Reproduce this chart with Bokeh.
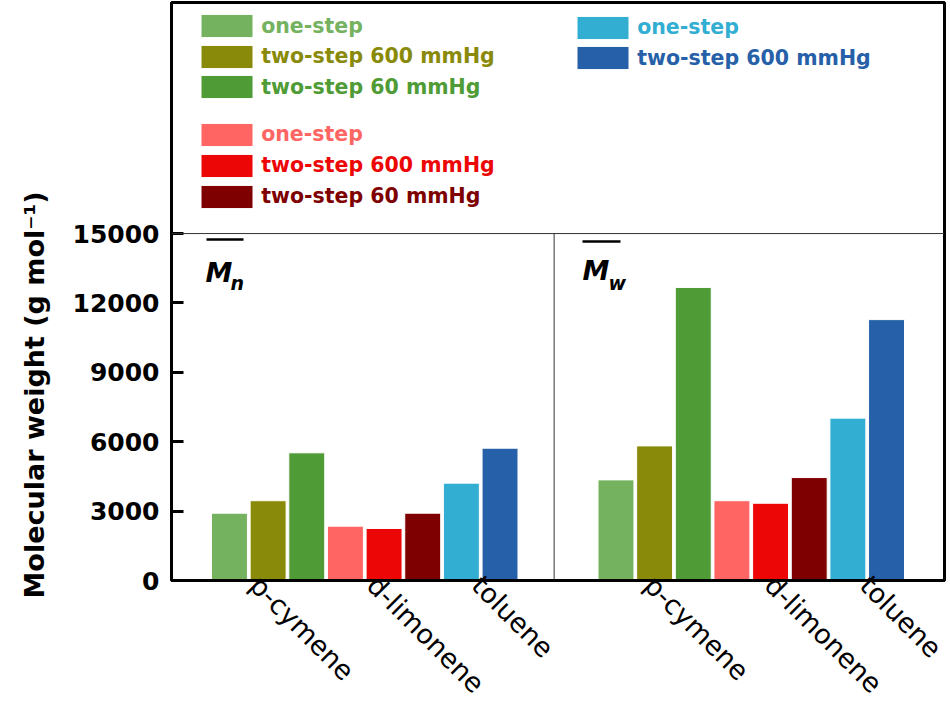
import math
from bokeh.plotting import figure
from bokeh.models import Legend, LegendItem, Label, Span, FixedTicker, ColumnDataSource, Title
from bokeh.embed import file_html
from bokeh.resources import INLINE
from bokeh.core.properties import value

# ---- data ----
series_labels = ["one-step", "two-step 600 mmHg", "two-step 60 mmHg",
                 "one-step", "two-step 600 mmHg", "two-step 60 mmHg",
                 "one-step", "two-step 600 mmHg"]
series_colors = ["#74B25F", "#8A8A0A", "#4F9B35",
                 "#FF6663", "#EC0606", "#7E0000",
                 "#33AED3", "#2660A8"]
mn_values = [2910, 3450, 5520, 2350, 2250, 2910, 4210, 5720]
mw_values = [4350, 5820, 12670, 3450, 3340, 4450, 7020, 11280]
solvents = ["p-cymene", "d-limonene", "toluene"]
label_x = [0.65, 3.69, 6.40, 10.86, 13.98, 16.44]
panel_offsets = [0, 10]
y_ticks = [0, 3000, 6000, 9000, 12000, 15000]
y_title = "Molecular weight (g mol⁻¹)"

FONT = "DejaVu Sans"

# layout helpers (pixel -> data), frame: left 171, bottom 580
def xd(px):
    return (px - 171) / 38.65 - 1.5

def yd(py):
    return (580 - py) / 0.023133

p = figure(width=948, height=715, x_range=(-1.5, 18.5), y_range=(0, 24990),
           output_backend="svg", toolbar_location=None,
           min_border_left=171, min_border_right=4, min_border_top=2,
           min_border_bottom=135)
p.xgrid.visible = False
p.ygrid.visible = False
p.background_fill_color = "white"
p.border_fill_color = "white"
p.outline_line_color = "black"
p.outline_line_width = 3
p.outline_line_alpha = 1

renderers = []
for i in range(len(series_labels)):
    src = ColumnDataSource(dict(x=[i + panel_offsets[0], i + panel_offsets[1]],
                                top=[mn_values[i], mw_values[i]]))
    r = p.vbar(x="x", top="top", bottom=0, width=0.93, source=src,
               fill_color=series_colors[i], line_color="white", line_width=1)
    renderers.append(r)

# separators
p.add_layout(Span(location=y_ticks[-1], dimension="width", line_color="#333333", line_width=1))
p.segment(x0=[8.4], y0=[0], x1=[8.4], y1=[y_ticks[-1]], line_color="#333333", line_width=1)

# legends (one per item so each label has its own colour)
row_pos = [(201.7, 26.7), (201.7, 57), (201.7, 87.8), (201.7, 135), (201.7, 166), (201.7, 197),
           (577.7, 28), (577.7, 58.8)]
GW, GH = 65, 29
for i, r in enumerate(renderers):
    px, cy = row_pos[i]
    lg = Legend(items=[LegendItem(label=value(series_labels[i]), renderers=[r])],
                location=(px - 7.5 - 171, 580 - cy - GH / 2 + 1),
                glyph_width=GW, glyph_height=GH, label_standoff=2, label_height=GH,
                label_text_font=FONT, label_text_font_style="bold",
                label_text_font_size="20.5px", label_text_color=series_colors[i],
                label_text_baseline="middle",
                padding=0, margin=0, border_line_alpha=0, background_fill_alpha=0)
    p.add_layout(lg)

# panel labels  M̄n and M̄w
for (mx, mb, sx, sb, sub, ox0, ox1, oy) in [(205, 272, 230, 282, "n", 206, 243, 239),
                                            (582, 270, 608, 282, "w", 582, 620, 241)]:
    p.add_layout(Label(x=xd(mx), y=yd(mb), text="M", text_font=FONT, text_font_style="bold italic",
                       text_font_size="27px", text_align="left", text_baseline="alphabetic",
                       text_color="black"))
    p.add_layout(Label(x=xd(sx), y=yd(sb), text=sub, text_font=FONT, text_font_style="bold italic",
                       text_font_size="19px", text_align="left", text_baseline="alphabetic",
                       text_color="black"))
    p.segment(x0=[xd(ox0)], y0=[yd(oy)], x1=[xd(ox1)], y1=[yd(oy)], line_color="black", line_width=2.5)

# y axis
p.yaxis.ticker = FixedTicker(ticks=y_ticks)
p.yaxis.major_label_text_font = FONT
p.yaxis.major_label_text_font_style = "bold"
p.yaxis.major_label_text_font_size = "25px"
p.yaxis.major_label_text_color = "black"
p.yaxis.major_label_standoff = 12
p.yaxis.major_tick_in = 12
p.yaxis.major_tick_out = 0
p.yaxis.major_tick_line_width = 3
p.yaxis.minor_tick_in = 0
p.yaxis.minor_tick_out = 0
p.yaxis.axis_line_width = 3
p.yaxis.axis_line_color = "black"

p.add_layout(Title(text=y_title, align="left", offset=-18, vertical_align="top", standoff=35,
                   text_font=FONT, text_font_style="bold", text_font_size="27px",
                   text_color="black"), "left")

# x axis
overrides = {}
for k, t in enumerate(label_x):
    overrides[t] = solvents[k % 3]
p.xaxis.ticker = FixedTicker(ticks=label_x)
p.xaxis.major_label_overrides = overrides
p.xaxis.major_label_orientation = -math.pi / 4
p.xaxis.major_label_text_font = FONT
p.xaxis.major_label_text_font_size = "27px"
p.xaxis.major_label_text_color = "black"
p.xaxis.major_label_standoff = 0
p.xaxis.major_tick_in = 0
p.xaxis.major_tick_out = 0
p.xaxis.minor_tick_in = 0
p.xaxis.minor_tick_out = 0
p.xaxis.axis_line_width = 3
p.xaxis.axis_line_color = "black"

open("out.html", "w").write(file_html(p, INLINE))
